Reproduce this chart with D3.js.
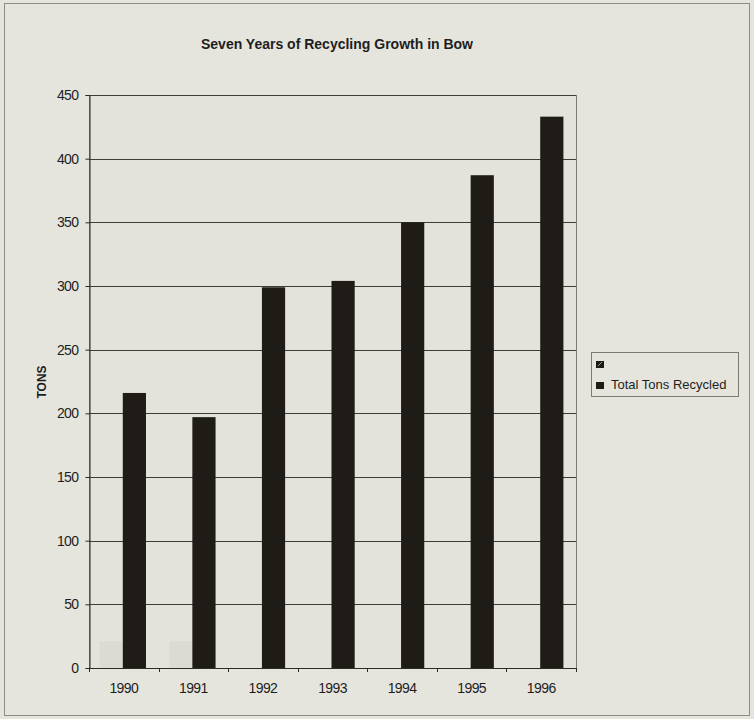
<!DOCTYPE html>
<html>
<head>
<meta charset="utf-8">
<script src="https://cdn.jsdelivr.net/npm/d3@7"></script>
<style>
  html, body { margin: 0; padding: 0; background: #e5e5dd; }
  svg { display: block; }
</style>
</head>
<body>
<svg id="chart"></svg>
<script>
const years = ['1990', '1991', '1992', '1993', '1994', '1995', '1996']
const blankSeries = [21, 21, 0, 0, 0, 0, 0]
const totalTons = [216, 197, 299, 304, 350, 387, 433]
const seriesNames = ['', 'Total Tons Recycled']
const yTicks = [0, 50, 100, 150, 200, 250, 300, 350, 400, 450]

const W = 754, H = 719
const plot = {left: 89, right: 576, top: 95, bottom: 668}

const svg = d3.select('#chart').attr('width', W).attr('height', H)

// background + outer frame
svg.append('rect').attr('width', W).attr('height', H).attr('fill', '#e5e5dd')
svg.append('rect')
    .attr('x', 4.5).attr('y', 3.5).attr('width', 745).attr('height', 712)
    .attr('fill', 'none').attr('stroke', '#8c8c88').attr('stroke-width', 1)

// title
svg.append('text')
    .attr('x', 337).attr('y', 49)
    .attr('text-anchor', 'middle')
    .style('font-family', 'Liberation Sans, Arial, sans-serif')
    .style('font-weight', 'bold')
    .style('font-size', '14px')
    .attr('fill', '#1e1e1e')
    .text('Seven Years of Recycling Growth in Bow')

const x = d3.scaleBand().domain(years).range([plot.left, plot.right])
const bw = x.bandwidth()
const xSub = d3.scaleBand().domain([0, 1]).range([bw / 6 - 1, bw * 5 / 6 - 1])
const y = d3.scaleLinear().domain([0, 450]).range([plot.bottom, plot.top])

// plot area border
svg.append('rect')
    .attr('x', plot.left + 0.5).attr('y', plot.top + 0.5)
    .attr('width', plot.right - plot.left).attr('height', plot.bottom - plot.top)
    .attr('fill', '#e3e3db').attr('stroke', '#7a7a76')

// gridlines
svg.append('g').selectAll('line')
    .data(yTicks.filter(d => d > 0))
    .enter().append('line')
    .attr('x1', plot.left).attr('x2', plot.right)
    .attr('y1', d => Math.round(y(d)) + 0.5).attr('y2', d => Math.round(y(d)) + 0.5)
    .attr('stroke', '#3c3c3a').attr('stroke-width', 1)

// faint first series
svg.append('g').selectAll('rect')
    .data(blankSeries.map((v, i) => ({year: years[i], v})))
    .enter().append('rect')
    .attr('x', d => x(d.year) + xSub(0))
    .attr('y', d => y(d.v))
    .attr('width', xSub.bandwidth())
    .attr('height', d => plot.bottom - y(d.v))
    .attr('fill', '#d6d6ce').attr('opacity', 0.6)

// main series
svg.append('g').selectAll('rect')
    .data(totalTons.map((v, i) => ({year: years[i], v})))
    .enter().append('rect')
    .attr('x', d => x(d.year) + xSub(1))
    .attr('y', d => y(d.v))
    .attr('width', xSub.bandwidth())
    .attr('height', d => plot.bottom - y(d.v))
    .attr('fill', '#1f1b17')

// y axis
const yAxis = svg.append('g')
    .attr('transform', `translate(${plot.left + 0.5},0)`)
    .call(d3.axisLeft(y).tickValues(yTicks).tickSize(4).tickPadding(7))
yAxis.select('.domain').attr('stroke', '#2a2a28')
yAxis.selectAll('.tick line').attr('stroke', '#2a2a28')
yAxis.selectAll('text')
    .style('font-family', 'Liberation Sans, Arial, sans-serif')
    .style('font-size', '14px')
    .style('letter-spacing', '-0.6px')
    .attr('fill', '#1e1e1e')

// x axis line, ticks at category boundaries
svg.append('line')
    .attr('x1', plot.left).attr('x2', plot.right + 1)
    .attr('y1', plot.bottom + 0.5).attr('y2', plot.bottom + 0.5)
    .attr('stroke', '#2a2a28')
const bounds = years.map(d => x(d)).concat([plot.right])
svg.append('g').selectAll('line')
    .data(bounds)
    .enter().append('line')
    .attr('x1', d => Math.round(d) + 0.5).attr('x2', d => Math.round(d) + 0.5)
    .attr('y1', plot.bottom).attr('y2', plot.bottom + 4)
    .attr('stroke', '#2a2a28')
svg.append('g').selectAll('text')
    .data(years)
    .enter().append('text')
    .attr('x', d => x(d) + bw / 2)
    .attr('y', 693)
    .attr('text-anchor', 'middle')
    .style('font-family', 'Liberation Sans, Arial, sans-serif')
    .style('font-size', '14px')
    .style('letter-spacing', '-0.6px')
    .attr('fill', '#1e1e1e')
    .text(d => d)

// y title
svg.append('text')
    .attr('transform', 'translate(46,382) rotate(-90)')
    .attr('text-anchor', 'middle')
    .style('font-family', 'Liberation Sans, Arial, sans-serif')
    .style('font-weight', 'bold')
    .style('font-size', '12px')
    .attr('fill', '#1e1e1e')
    .text('TONS')

// legend
const legend = svg.append('g')
legend.append('rect')
    .attr('x', 591.5).attr('y', 352.5).attr('width', 147).attr('height', 44)
    .attr('fill', 'none').attr('stroke', '#7a7a76')
const legendRows = seriesNames.map((name, i) => ({name, i}))
legend.selectAll('rect.key')
    .data(legendRows)
    .enter().append('rect')
    .attr('class', 'key')
    .attr('x', 596).attr('y', d => 361 + d.i * 21)
    .attr('width', 8).attr('height', 7)
    .attr('fill', '#1f1b17')
legend.append('line')
    .attr('x1', 598).attr('y1', 366).attr('x2', 602).attr('y2', 362)
    .attr('stroke', '#9a9a94').attr('stroke-width', 1)
legend.selectAll('text')
    .data(legendRows)
    .enter().append('text')
    .attr('x', 611).attr('y', d => 368 + d.i * 21)
    .style('font-family', 'Liberation Sans, Arial, sans-serif')
    .style('font-size', '13px')
    .attr('fill', '#1e1e1e')
    .text(d => d.name)
</script>
</body>
</html>
